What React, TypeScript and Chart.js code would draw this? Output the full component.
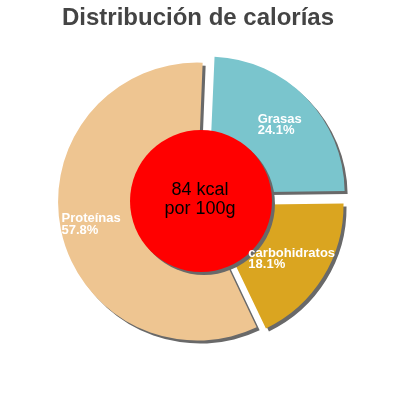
import { useEffect, useRef } from "react";
import { Chart, registerables } from "chart.js";

Chart.register(...registerables);

// values
const categories = ["Grasas", "carbohidratos", "Proteínas"];
const percentages = [24.1, 18.1, 57.8];
const chartTitle = "Distribución de calorías";
const centerLines = ["84 kcal", "por 100g"];

const FONT = '"Liberation Sans", Arial, sans-serif';

// draws title, slice shadows, red centre disc and the labels
const decorPlugin = {
  id: "decor",
  beforeDatasetsDraw(chart: any) {
    const ctx = chart.ctx;
    ctx.save();
    ctx.shadowColor = "#696969";
    ctx.shadowOffsetX = 3;
    ctx.shadowOffsetY = 3;
    ctx.shadowBlur = 0;
  },
  afterDatasetsDraw(chart: any) {
    const ctx = chart.ctx;
    ctx.restore();

    const meta = chart.getDatasetMeta(0);
    const first = meta.data[0];
    const cx = first.x;
    const cy = first.y;
    const outer = first.outerRadius;

    // red disc in the middle
    ctx.save();
    ctx.shadowColor = "#696969";
    ctx.shadowOffsetX = 3;
    ctx.shadowOffsetY = 3;
    ctx.beginPath();
    ctx.arc(cx + 1, cy, outer * 0.522, 0, Math.PI * 2);
    ctx.fillStyle = "#ff0000";
    ctx.fill();
    ctx.restore();

    ctx.save();
    ctx.fillStyle = "#000";
    ctx.font = "18px " + FONT;
    ctx.textAlign = "center";
    ctx.textBaseline = "alphabetic";
    ctx.fillText(centerLines[0], cx, cy - 6);
    ctx.fillText(centerLines[1], cx, cy + 13);
    ctx.restore();

    // slice labels
    const labelRadius = [0.728, 0.735, 0.795];
    ctx.save();
    ctx.fillStyle = "#fff";
    ctx.font = "bold 13px " + FONT;
    ctx.textAlign = "left";
    ctx.textBaseline = "alphabetic";
    meta.data.forEach((arc: any, i: number) => {
      const mid = (arc.startAngle + arc.endAngle) / 2;
      const shift = (arc.options.offset || 0) / 4;
      const r = shift + arc.outerRadius * labelRadius[i];
      const ax = arc.x + Math.cos(mid) * r;
      const ay = arc.y + Math.sin(mid) * r;
      const pct = percentages[i].toFixed(1) + "%";
      const w = Math.max(ctx.measureText(categories[i]).width, ctx.measureText(pct).width);
      const left = ax - w / 2;
      ctx.fillText(categories[i], left, ay - 1);
      ctx.fillText(pct, left, ay + 10.5);
    });
    ctx.restore();
  },
  afterDraw(chart: any) {
    const ctx = chart.ctx;
    ctx.save();
    ctx.fillStyle = "#444444";
    ctx.font = "bold 24px " + FONT;
    ctx.textAlign = "center";
    ctx.textBaseline = "alphabetic";
    ctx.fillText(chartTitle, 198, 24.5);
    ctx.restore();
  },
};

const App = () => {
  const canvasRef = useRef<HTMLCanvasElement | null>(null);

  useEffect(() => {
    if (!canvasRef.current) return;
    const chart = new Chart(canvasRef.current, {
      type: "pie",
      data: {
        labels: categories,
        datasets: [
          {
            data: percentages,
            backgroundColor: ["#7ac5cd", "#daa520", "#eec591"],
            borderWidth: 0,
            offset: [48, 32, 12],
          },
        ],
      },
      options: {
        animation: false,
        responsive: false,
        rotation: 2.5,
        radius: 136,
        layout: { padding: { top: 2, bottom: 0, left: 0, right: 0 } },
        plugins: {
          legend: { display: false },
          tooltip: { enabled: false },
          title: { display: false },
        },
        events: [],
      } as any,
      plugins: [decorPlugin],
    });
    return () => {
      chart.destroy();
    };
  }, []);

  return (
    <div style={{ position: "absolute", left: 0, top: 0, width: 400, height: 400, background: "#fff" }}>
      <canvas ref={canvasRef} width={400} height={400} />
    </div>
  );
};

export default App;
